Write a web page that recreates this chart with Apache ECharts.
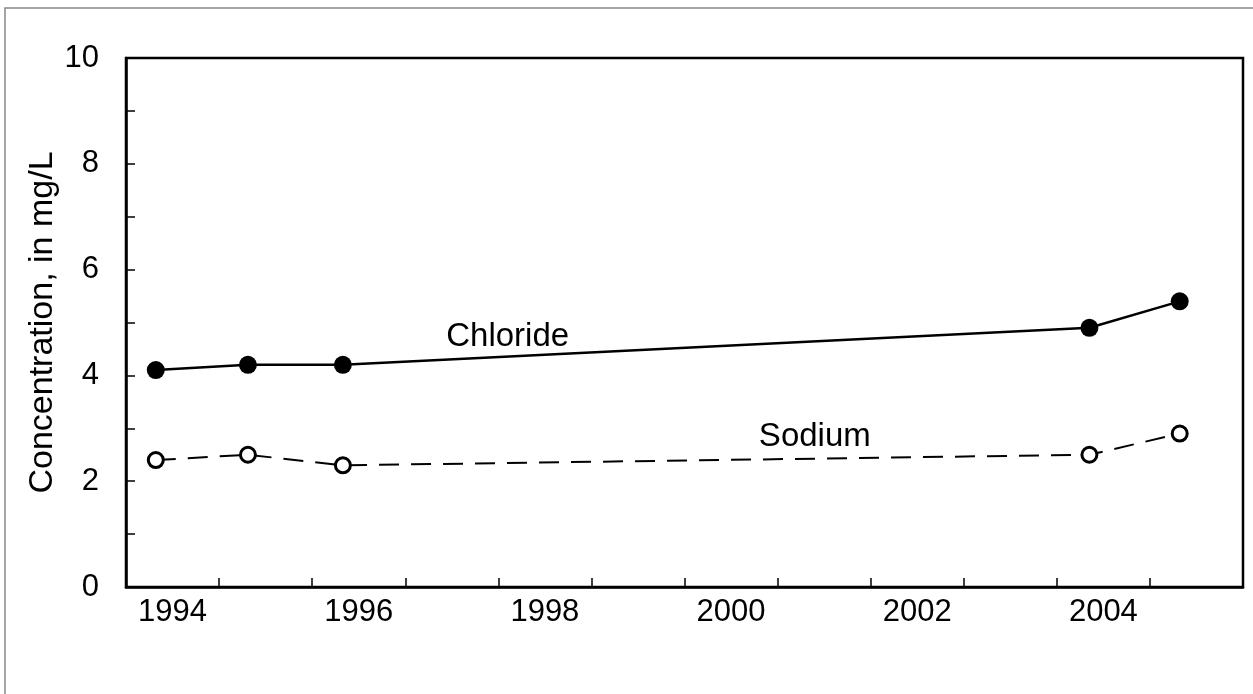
<!DOCTYPE html>
<html>
<head>
<meta charset="utf-8">
<script src="https://cdn.jsdelivr.net/npm/echarts@6/dist/echarts.min.js"></script>
<style>
  html, body { margin: 0; padding: 0; background: #fff; }
  #chart { width: 1253px; height: 694px; }
</style>
</head>
<body>
<div id="chart"></div>
<script>
// sample dates as decimal years
const sampleYears = [1994.32, 1995.31, 1996.33, 2004.35, 2005.32]
const chloride = [4.1, 4.2, 4.2, 4.9, 5.4]
const sodium = [2.4, 2.5, 2.3, 2.5, 2.9]
const yearLabels = ['1994', '1995', '1996', '1997', '1998', '1999', '2000', '2001', '2002', '2003', '2004', '2005']

const font = 'Liberation Sans, Arial, sans-serif'

let EC = echarts.init(document.getElementById('chart'))

let option = {
    backgroundColor: '#fff',
    animation: false,
    grid: {
        left: 126,
        right: 10,
        top: 58,
        bottom: 107,
        show: true,
        borderColor: '#000',
        borderWidth: 2.5
    },
    xAxis: [
        {
            type: 'value',
            min: 1994,
            max: 2006,
            interval: 1,
            axisLine: { show: true, lineStyle: { color: '#000', width: 2.5 } },
            axisTick: { show: true, inside: true, length: 9, lineStyle: { color: '#000', width: 1.5 } },
            axisLabel: { show: false },
            splitLine: { show: false }
        },
        {
            // year labels sit in the middle of each year
            type: 'category',
            data: yearLabels,
            boundaryGap: true,
            position: 'bottom',
            axisLine: { show: false },
            axisTick: { show: false },
            axisLabel: {
                interval: 1,
                margin: 10,
                color: '#000',
                fontFamily: font,
                fontSize: 31
            },
            splitLine: { show: false }
        }
    ],
    yAxis: {
        type: 'value',
        min: 0,
        max: 10,
        interval: 1,
        name: 'Concentration, in mg/L',
        nameLocation: 'middle',
        nameGap: 66,
        nameMoveOverlap: false,
        nameTextStyle: { color: '#000', fontFamily: font, fontSize: 34 },
        axisLine: { show: true, lineStyle: { color: '#000', width: 2.5 } },
        axisTick: { show: true, inside: true, length: 9, lineStyle: { color: '#000', width: 1.5 } },
        axisLabel: {
            margin: 27,
            color: '#000',
            fontFamily: font,
            fontSize: 31,
            formatter: v => (v % 2 === 0 ? String(v) : '')
        },
        splitLine: { show: false }
    },
    graphic: [
        {
            type: 'rect',
            silent: true,
            shape: { x: 5, y: 8, width: 1265, height: 710 },
            style: { fill: 'none', stroke: '#888', lineWidth: 1.5 }
        }
    ],
    series: [
        {
            name: 'Chloride',
            type: 'line',
            xAxisIndex: 0,
            data: sampleYears.map((x, i) => [x, chloride[i]]),
            symbol: 'circle',
            symbolSize: 18,
            itemStyle: { color: '#000' },
            lineStyle: { color: '#000', width: 2.5 },
            markPoint: {
                symbol: 'circle',
                symbolSize: 0,
                data: [{ coord: [1998.1, 4.73], value: 'Chloride' }],
                label: { show: true, position: 'inside', color: '#000', fontFamily: font, fontSize: 33, formatter: 'Chloride' }
            }
        },
        {
            name: 'Sodium',
            type: 'line',
            xAxisIndex: 0,
            data: sampleYears.map((x, i) => [x, sodium[i]]),
            symbol: 'circle',
            symbolSize: 15,
            itemStyle: { color: '#fff', borderColor: '#000', borderWidth: 3 },
            lineStyle: { color: '#000', width: 2, type: [20, 12] },
            markPoint: {
                symbol: 'circle',
                symbolSize: 0,
                data: [{ coord: [2001.4, 2.84], value: 'Sodium' }],
                label: { show: true, position: 'inside', color: '#000', fontFamily: font, fontSize: 33, formatter: 'Sodium' }
            }
        }
    ]
}
EC.setOption(option)
</script>
</body>
</html>
